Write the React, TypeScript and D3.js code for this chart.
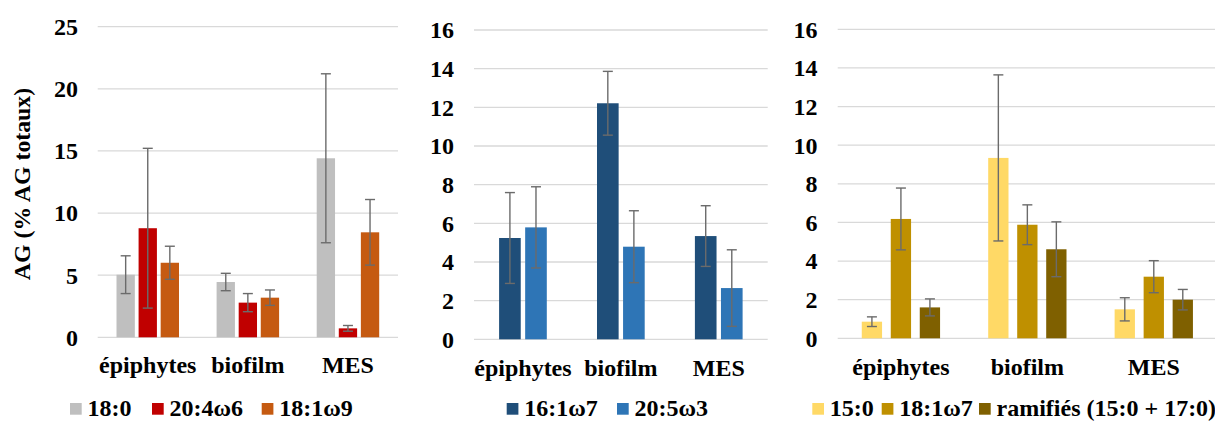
import React from "react";
import * as d3 from "d3";

const categories = ["épiphytes", "biofilm", "MES"];

// Panel 1
const p1Series = ["18:0", "20:4ω6", "18:1ω9"];
const p1Values = [
  [5.04, 4.45, 14.41],
  [8.78, 2.79, 0.72],
  [6.0, 3.19, 8.45],
];
const p1Errors = [
  [1.52, 0.7, 6.8],
  [6.43, 0.73, 0.23],
  [1.33, 0.62, 2.64],
];
const p1Ticks = [0, 5, 10, 15, 20, 25];

// Panel 2
const p2Series = ["16:1ω7", "20:5ω3"];
const p2Values = [
  [5.24, 12.21, 5.34],
  [5.79, 4.79, 2.65],
];
const p2Errors = [
  [2.35, 1.65, 1.57],
  [2.1, 1.86, 1.98],
];
const p2Ticks = [0, 2, 4, 6, 8, 10, 12, 14, 16];

// Panel 3
const p3Series = ["15:0", "18:1ω7", "ramifiés (15:0 + 17:0)"];
const p3Values = [
  [0.86, 9.34, 1.5],
  [6.18, 5.88, 3.19],
  [1.6, 4.61, 2.0],
];
const p3Errors = [
  [0.25, 4.3, 0.6],
  [1.6, 1.03, 0.83],
  [0.44, 1.42, 0.53],
];
const p3Ticks = [0, 2, 4, 6, 8, 10, 12, 14, 16];

const yTitle = "AG (% AG totaux)";

const FONT = "'Liberation Serif', 'Times New Roman', serif";

type PanelCfg = {
  series: string[];
  values: number[][];
  errors: number[][];
  ticks: number[];
  colors: string[];
  x0: number;
  x1: number;
  yTop: number;
  yBottom: number;
  tickRight: number;
  groupWidth: number;
  barPad: number;
  catBaseline: number;
  legendSquares: number[];
};

const panels: PanelCfg[] = [
  {
    series: p1Series,
    values: p1Values,
    errors: p1Errors,
    ticks: p1Ticks,
    colors: ["#BFBFBF", "#C00000", "#C55A11"],
    x0: 97.7,
    x1: 398,
    yTop: 26.7,
    yBottom: 337.3,
    tickRight: 78,
    groupWidth: 62.5,
    barPad: 0.17,
    catBaseline: 372.7,
    legendSquares: [70, 152, 261.7],
  },
  {
    series: p2Series,
    values: p2Values,
    errors: p2Errors,
    ticks: p2Ticks,
    colors: ["#1F4E79", "#2E75B6"],
    x0: 474,
    x1: 767.7,
    yTop: 30,
    yBottom: 339.3,
    tickRight: 454,
    groupWidth: 47.7,
    barPad: 0.17,
    catBaseline: 375.5,
    legendSquares: [506.7, 617],
  },
  {
    series: p3Series,
    values: p3Values,
    errors: p3Errors,
    ticks: p3Ticks,
    colors: ["#FFD966", "#BF9000", "#7F6000"],
    x0: 837.7,
    x1: 1217,
    yTop: 29.3,
    yBottom: 338.3,
    tickRight: 817.5,
    groupWidth: 78.3,
    barPad: 0.3,
    catBaseline: 375,
    legendSquares: [812.3, 881.7, 979],
  },
];

const LEGEND_BASE = 415.5;

function Panel({ cfg }: { cfg: PanelCfg }) {
  const x = d3.scaleBand<string>().domain(categories).range([cfg.x0, cfg.x1]).padding(0);
  const inner = d3
    .scaleBand<string>()
    .domain(cfg.series)
    .range([-cfg.groupWidth / 2, cfg.groupWidth / 2])
    .paddingInner(cfg.barPad)
    .paddingOuter(0);
  const y = d3
    .scaleLinear()
    .domain([0, cfg.ticks[cfg.ticks.length - 1]])
    .range([cfg.yBottom, cfg.yTop]);
  const bw = inner.bandwidth();
  const cap = 5;
  return (
    <g>
      {cfg.ticks.map((t) => (
        <g key={"t" + t}>
          <line
            x1={cfg.x0}
            x2={cfg.x1}
            y1={y(t)}
            y2={y(t)}
            stroke="#D9D9D9"
            strokeWidth={1.3}
          />
          <text
            x={cfg.tickRight}
            y={y(t)}
            dy="0.35em"
            textAnchor="end"
            fontFamily={FONT}
            fontWeight="bold"
            fontSize={24}
            fill="#000"
          >
            {t}
          </text>
        </g>
      ))}
      {cfg.series.map((s, si) =>
        categories.map((c, ci) => {
          const cx = (x(c) as number) + x.bandwidth() / 2;
          const bx = cx + (inner(s) as number);
          const v = cfg.values[si][ci];
          return (
            <rect
              key={s + c}
              x={bx}
              y={y(v)}
              width={bw}
              height={y(0) - y(v)}
              fill={cfg.colors[si]}
            />
          );
        })
      )}
      {cfg.series.map((s, si) =>
        categories.map((c, ci) => {
          const cx = (x(c) as number) + x.bandwidth() / 2;
          const mx = cx + (inner(s) as number) + bw / 2;
          const v = cfg.values[si][ci];
          const e = cfg.errors[si][ci];
          const hi = y(v + e);
          const lo = y(Math.max(0, v - e));
          return (
            <g key={"e" + s + c} stroke="#6B6B6B" strokeWidth={1.4}>
              <line x1={mx} x2={mx} y1={hi} y2={lo} />
              <line x1={mx - cap} x2={mx + cap} y1={hi} y2={hi} />
              <line x1={mx - cap} x2={mx + cap} y1={lo} y2={lo} />
            </g>
          );
        })
      )}
      {categories.map((c) => (
        <text
          key={"c" + c}
          x={(x(c) as number) + x.bandwidth() / 2}
          y={cfg.catBaseline}
          textAnchor="middle"
          fontFamily={FONT}
          fontWeight="bold"
          fontSize={24}
          fill="#000"
        >
          {c}
        </text>
      ))}
      {cfg.series.map((s, si) => (
        <g key={"l" + s}>
          <rect
            x={cfg.legendSquares[si]}
            y={LEGEND_BASE - 12.5}
            width={11.7}
            height={11.7}
            fill={cfg.colors[si]}
          />
          <text
            x={cfg.legendSquares[si] + 17.5}
            y={LEGEND_BASE}
            fontFamily={FONT}
            fontWeight="bold"
            fontSize={24}
            fill="#000"
          >
            {s}
          </text>
        </g>
      ))}
    </g>
  );
}

export default function App() {
  return (
    <svg
      width={1215}
      height={421}
      style={{ position: "absolute", left: 0, top: 0, background: "#fff" }}
    >
      <rect x={0} y={0} width={1215} height={421} fill="#fff" />
      {panels.map((p, i) => (
        <Panel key={i} cfg={p} />
      ))}
      <text
        transform="translate(22,184) rotate(-90)"
        dy="0.35em"
        textAnchor="middle"
        fontFamily={FONT}
        fontWeight="bold"
        fontSize={23.8}
        fill="#000"
      >
        {yTitle}
      </text>
    </svg>
  );
}
